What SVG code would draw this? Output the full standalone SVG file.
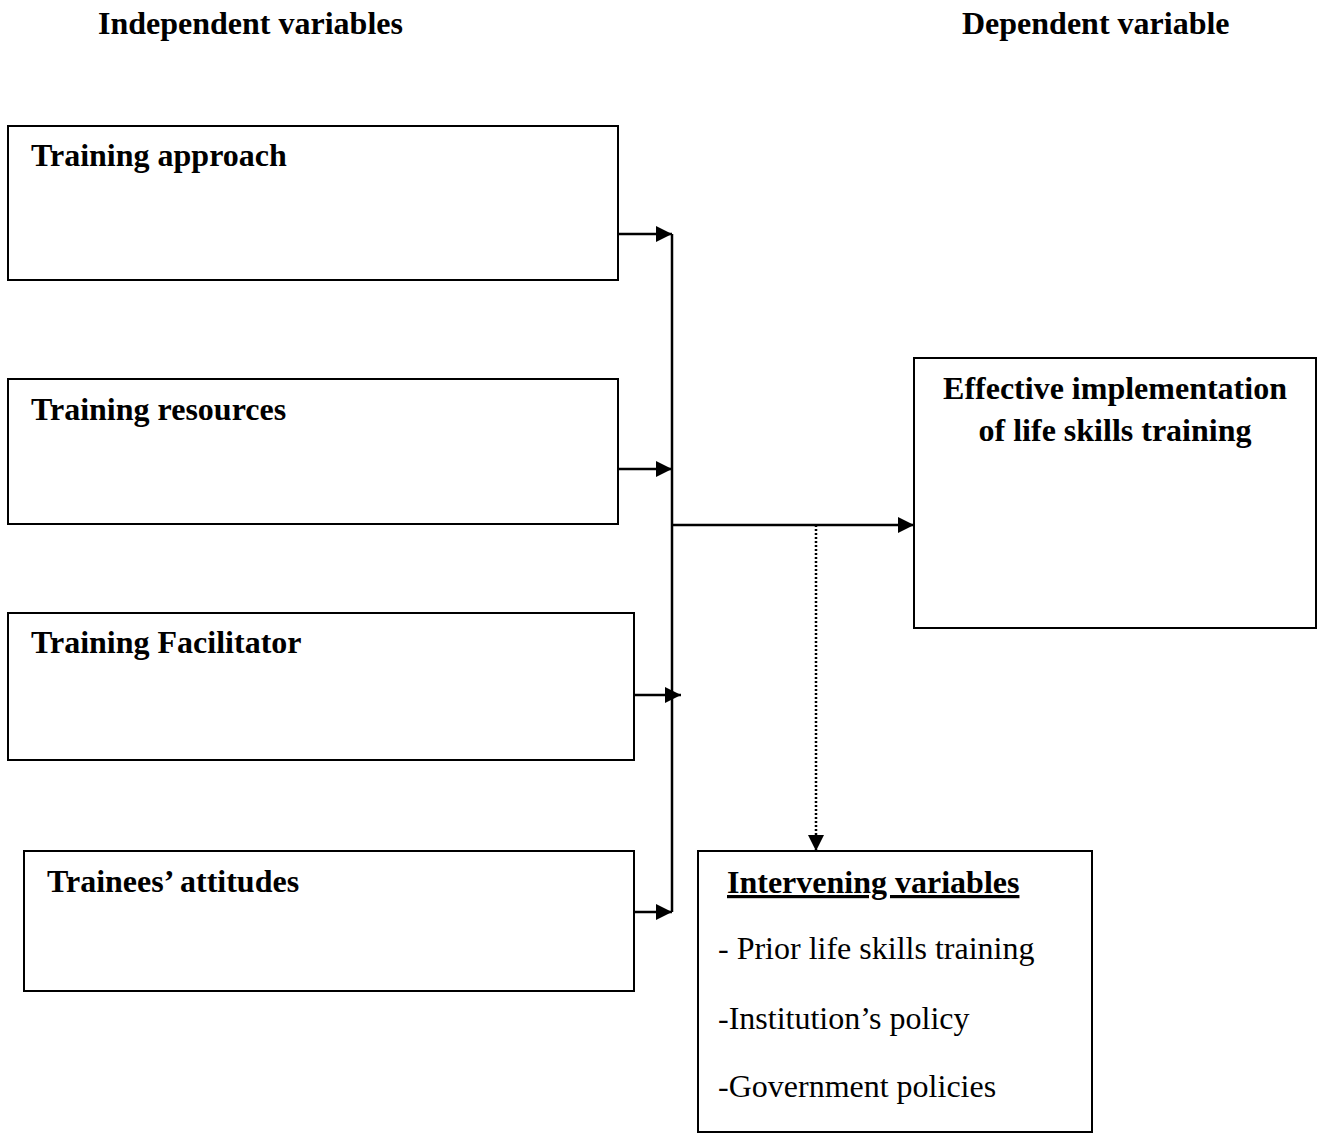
<svg xmlns="http://www.w3.org/2000/svg" width="1319" height="1133" viewBox="0 0 1319 1133">
<defs>
<style>
.box{fill:#fff;stroke:#000;stroke-width:2}
.t{font-family:"Liberation Serif","Times New Roman",serif;font-size:32px;fill:#000}
.b{font-weight:bold}
.ln{stroke:#000;stroke-width:2.5;fill:none}
.dot{stroke:#000;stroke-width:2.5;fill:none;stroke-dasharray:2 2}
</style>
<marker id="ah" viewBox="0 0 10 10" refX="10" refY="5" markerWidth="16" markerHeight="16" markerUnits="userSpaceOnUse" orient="auto">
<path d="M0,0 L10,5 L0,10 Z" fill="#000"/>
</marker>
</defs>
<rect width="1319" height="1133" fill="#fff"/>
<text class="t b" x="98" y="34">Independent variables</text>
<text class="t b" x="962" y="34">Dependent variable</text>
<g id="n1"><rect class="box" x="8" y="126" width="610" height="154"/><text class="t b" x="31" y="166">Training approach</text></g>
<g id="n2"><rect class="box" x="8" y="379" width="610" height="145"/><text class="t b" x="31" y="420">Training resources</text></g>
<g id="n3"><rect class="box" x="8" y="613" width="626" height="147"/><text class="t b" x="31" y="653">Training Facilitator</text></g>
<g id="n4"><rect class="box" x="24" y="851" width="610" height="140"/><text class="t b" x="47" y="892">Trainees’ attitudes</text></g>
<g id="n5"><rect class="box" x="914" y="358" width="402" height="270"/><text class="t b" x="1115" y="399" text-anchor="middle">Effective implementation</text><text class="t b" x="1115" y="441" text-anchor="middle">of life skills training</text></g>
<g id="n6"><rect class="box" x="698" y="851" width="394" height="281"/>
<text class="t b" x="727" y="893" text-decoration="underline">Intervening variables</text>
<text class="t" x="718" y="959">- Prior life skills training</text>
<text class="t" x="718" y="1029">-Institution’s policy</text>
<text class="t" x="718" y="1097">-Government policies</text></g>
<g id="connectors">
<line class="ln" x1="672" y1="234" x2="672" y2="912"/>
<line class="ln" x1="618" y1="234" x2="672" y2="234" marker-end="url(#ah)"/>
<line class="ln" x1="618" y1="469" x2="672" y2="469" marker-end="url(#ah)"/>
<line class="ln" x1="634" y1="695" x2="681" y2="695" marker-end="url(#ah)"/>
<line class="ln" x1="634" y1="912" x2="672" y2="912" marker-end="url(#ah)"/>
<line class="ln" x1="672" y1="525" x2="914" y2="525" marker-end="url(#ah)"/>
<line class="dot" x1="816" y1="525" x2="816" y2="851" marker-end="url(#ah)"/>
</g>
</svg>
